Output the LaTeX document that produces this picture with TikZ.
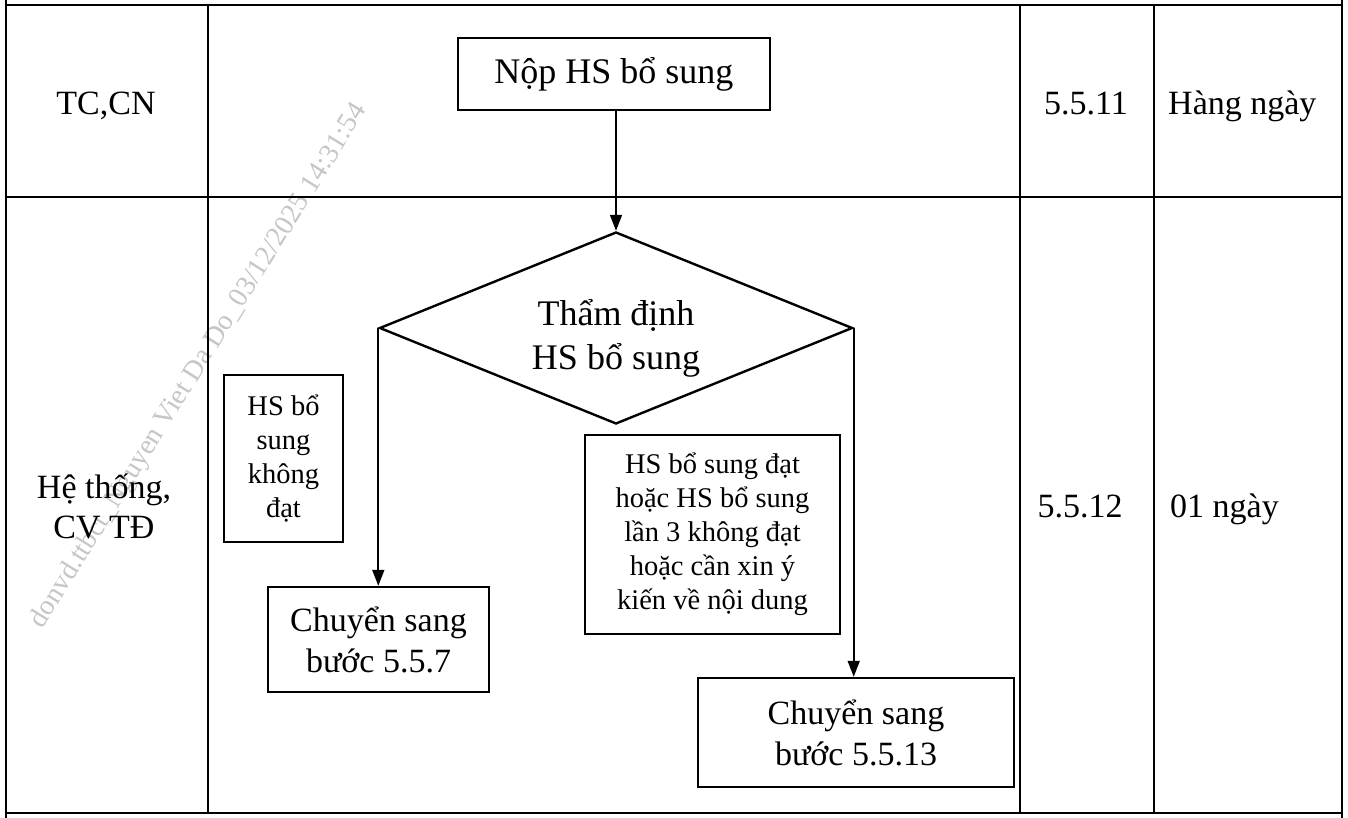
\documentclass[tikz,border=0pt]{standalone}
\usepackage{fontspec}
\setmainfont{Liberation Serif}
\usetikzlibrary{shapes.geometric,arrows.meta}
\begin{document}
\begin{tikzpicture}[x=1pt,y=-1pt,
  tbl/.style={line width=2.8pt},
  box/.style={draw,line width=2.4pt,inner sep=0pt,align=center},
  dia/.style={draw,diamond,line width=2.4pt,inner sep=0pt,aspect=2.46,align=center},
  arr/.style={line width=1.8pt,-{Triangle[length=16pt,width=12pt]}},
  lbl/.style={inner sep=0pt,font=\fontsize{34}{40}\selectfont},
  fbig/.style={font=\fontsize{36}{44}\selectfont},
  fmid/.style={font=\fontsize{34}{41}\selectfont},
  fsmall/.style={font=\fontsize{28.5}{34}\selectfont},
  wmark/.style={text=gray!45,font=\fontsize{28}{30}\selectfont,rotate=58,inner sep=0pt}]
\useasboundingbox (0,0) rectangle (1348,818);
\fill[white] (0,0) rectangle (1348,818);

% watermark
\node[wmark] (wm) at (199,366) {donvd.ttbct\_Nguyen Viet Da Do\_03/12/2025 14:31:54};

% table
\draw[tbl] (6,0) -- (6,818);
\draw[tbl] (1342,0) -- (1342,818);
\draw[tbl] (6,5) -- (1342,5);
\draw[tbl] (6,197) -- (1342,197);
\draw[tbl] (6,813) -- (1342,813);
\draw[tbl] (208,5) -- (208,813);
\draw[tbl] (1020,5) -- (1020,813);
\draw[tbl] (1154,5) -- (1154,813);

% column labels
\node[lbl,anchor=base] (tccn) at (106,115) {TC,CN};
\node[lbl,align=center] (htcv) at (104,506) {Hệ thống,\\CV TĐ};
\node[lbl,anchor=base] (s11) at (1086,115) {5.5.11};
\node[lbl,anchor=base] (s12) at (1080,517) {5.5.12};
\node[lbl,anchor=base west] (t11) at (1168,115) {Hàng ngày};
\node[lbl,anchor=base west] (t12) at (1170,517) {01 ngày};

% flowchart
\node[box,fbig,minimum width=312pt,minimum height=72pt] (nop) at (614,74) {Nộp HS bổ sung};
\node[dia,fbig,minimum width=473pt,minimum height=192pt] (dia) at (616,328) {\rule{0pt}{46pt}Thẩm định\\HS bổ sung};
\node[box,fsmall,minimum width=119pt,minimum height=167pt] (kd) at (283.5,458.5) {HS bổ\\sung\\không\\đạt};
\node[box,fsmall,minimum width=255pt,minimum height=199pt] (dat) at (712.5,534.5) {HS bổ sung đạt\\hoặc HS bổ sung\\lần 3 không đạt\\hoặc cần xin ý\\kiến về nội dung};
\node[box,fmid,minimum width=221pt,minimum height=105pt] (b557) at (378.5,639.5) {Chuyển sang\\bước 5.5.7};
\node[box,fmid,minimum width=316pt,minimum height=109pt] (b5513) at (856,732.5) {Chuyển sang\\bước 5.5.13};

\draw[arr] (nop.south -| dia.north) -- (dia.north);
\draw[arr] (dia.west) -- (dia.west |- b557.north);
\draw[arr] (dia.east) -- (dia.east |- b5513.north);
\end{tikzpicture}
\end{document}
